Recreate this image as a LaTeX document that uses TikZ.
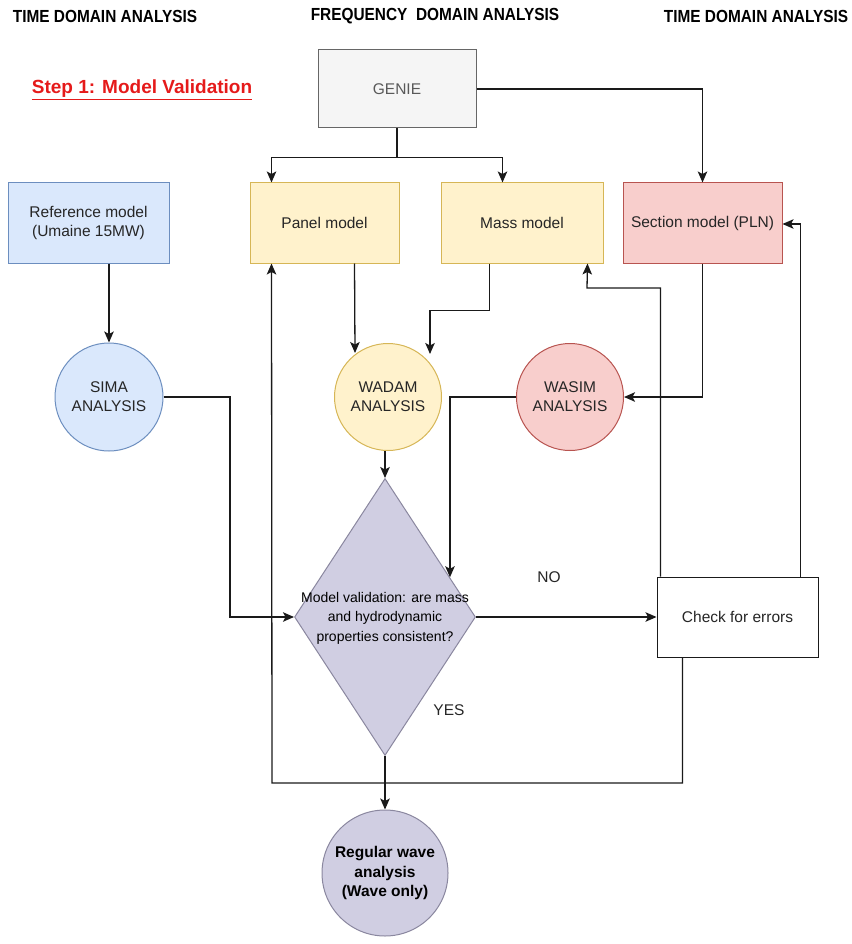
\documentclass[tikz,border=0pt]{standalone}
\usepackage{fontspec}
\setmainfont{Liberation Sans}
\usetikzlibrary{arrows.meta,shapes.geometric,calc}
\definecolor{bluefill}{HTML}{DAE8FC}\definecolor{bluedraw}{HTML}{6C8EBF}
\definecolor{yelfill}{HTML}{FFF2CC}\definecolor{yeldraw}{HTML}{D6B656}
\definecolor{redfill}{HTML}{F8CECC}\definecolor{reddraw}{HTML}{B85450}
\definecolor{grayfill}{HTML}{F5F5F5}\definecolor{graydraw}{HTML}{666666}
\definecolor{purfill}{HTML}{D0CEE2}\definecolor{purdraw}{HTML}{8A879F}
\definecolor{steptitle}{HTML}{E51A1A}
\definecolor{linecol}{HTML}{1A1A1A}
\begin{document}
\begin{tikzpicture}[x=1pt,y=-1pt,
  txt/.style={font=\fontsize{15.5}{19}\selectfont, text=black!85, align=center},
  box/.style={txt, draw, line width=1pt, inner sep=2pt},
  circ/.style={txt, circle, draw, line width=1pt, inner sep=0pt},
  head/.style={font=\fontsize{17.5}{20}\selectfont\bfseries, xscale=0.88},
  arr/.style={draw=linecol, line width=1.3pt, -{Stealth[length=11pt,width=9.5pt,inset=2.5pt]}},
  ln/.style={draw=linecol, line width=1.3pt}]
\useasboundingbox (0,0) rectangle (851,944);

% headers
\node[head] (h1) at (105,16) {TIME DOMAIN ANALYSIS};
\node[head] (h2) at (435,16) {FREQUENCY\ \ DOMAIN ANALYSIS};
\node[head] (h3) at (756,16) {TIME DOMAIN ANALYSIS};
\node[font=\fontsize{19}{22}\selectfont\bfseries, text=steptitle] (step) at (142,90) {\underline{Step 1: Model Validation}};

% boxes
\node[box, fill=grayfill, draw=graydraw, text=black!65, minimum width=158pt, minimum height=78pt] (genie) at (397,89) {GENIE};
\node[box, fill=bluefill, draw=bluedraw, minimum width=161pt, minimum height=80pt] (ref) at (88.5,223) {Reference model\\(Umaine 15MW)};
\node[box, fill=yelfill, draw=yeldraw, minimum width=149pt, minimum height=80pt] (panel) at (324.5,223) {Panel model};
\node[box, fill=yelfill, draw=yeldraw, minimum width=162pt, minimum height=80pt] (mass) at (522,223) {Mass model};
\node[box, fill=redfill, draw=reddraw, minimum width=159pt, minimum height=80pt] (section) at (702.5,223) {Section model (PLN)};
\node[box, fill=white, draw=linecol, minimum width=161pt, minimum height=80pt] (check) at (737.5,617) {Check for errors};

% circles
\node[circ, fill=bluefill, draw=bluedraw, minimum size=108pt] (sima) at (109,397) {SIMA\\ANALYSIS};
\node[circ, fill=yelfill, draw=yeldraw, minimum size=107pt] (wadam) at (388,397) {WADAM\\ANALYSIS};
\node[circ, fill=redfill, draw=reddraw, minimum size=107pt] (wasim) at (570,397) {WASIM\\ANALYSIS};
\node[circ, fill=purfill, draw=purdraw, minimum size=126pt, font=\fontsize{15.5}{19.5}\selectfont\bfseries, text=black] (reg) at (385,873) {Regular wave\\analysis\\(Wave only)};

% diamond
\node[diamond, draw=purdraw, fill=purfill, line width=1pt, minimum width=181pt, minimum height=277pt, inner sep=0pt] (dia) at (385,617) {};
\node[txt, font=\fontsize{14}{19.5}\selectfont, text=black] (diatext) at (385,618) {Model validation: are mass\\and hydrodynamic\\properties consistent?};

% labels
\node[txt] (no) at (549,577) {NO};
\node[txt] (yes) at (449,710) {YES};

% connectors
\coordinate (gsplit) at ($(genie.south)+(0,29)$);
\draw[ln] (genie.south) -- (gsplit);
\draw[arr] (gsplit) -| ($(panel.north west)+(22,0)$);
\draw[arr] (gsplit) -| ($(mass.north west)+(62,0)$);
\draw[arr] (genie.east) -| (section.north);
\draw[arr] (ref.south -| sima.north) -- (sima.north);
\draw[arr] ($(panel.south west)+(105,0)$) -- ($(wadam.north)+(-33,10)$);
\draw[arr] ($(mass.south west)+(49,0)$) -- ++(0,47) -| ($(wadam.north)+(42,11)$);
\draw[arr] (section.south) |- (wasim.east);
\draw[arr] (sima.east) -| (230,617) -- (dia.west);
\draw[arr] (wadam.south -| dia.north) -- (dia.north);
\draw[arr] (wasim.west) -| ($(dia.north)!0.714!(dia.east)$);
\draw[arr] (dia.east) -- (check.west);
\draw[arr] (dia.south) -- (reg.north);
\draw[arr] ($(check.south west)+(26,0)$) |- (272,783) -- ($(panel.south west)+(22,0)$);
\draw[arr] ($(check.north west)+(4,0)$) |- (587,288) -- ($(mass.south east)+(-16,0)$);
\draw[arr] ($(check.north east)+(-18,0)$) |- ($(section.east)+(0,1)$);
\end{tikzpicture}
\end{document}
